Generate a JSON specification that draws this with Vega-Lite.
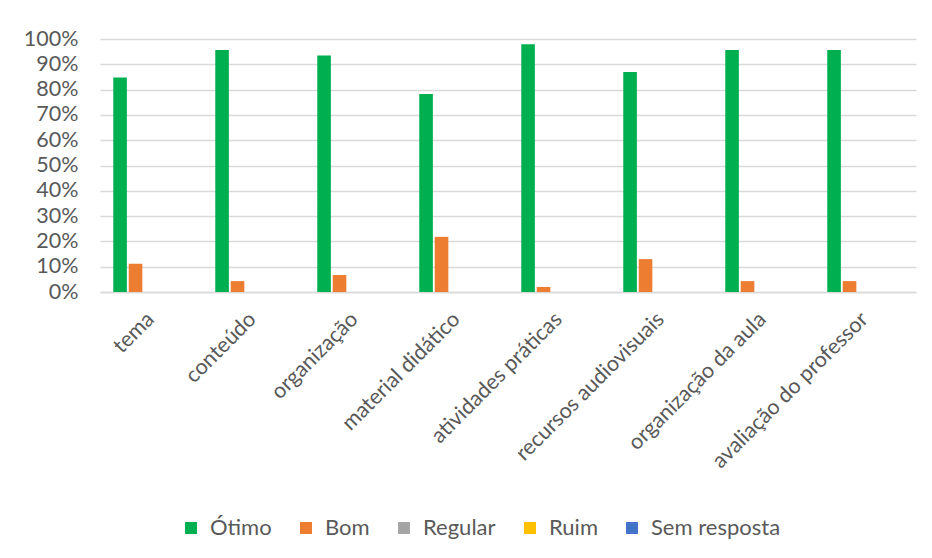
{
  "$schema": "https://vega.github.io/schema/vega-lite/v6.json",
  "width": 816,
  "height": 253,
  "autosize": {"type": "none"},
  "padding": {"left": 100, "top": 39, "right": 16, "bottom": 266},
  "background": "white",
  "data": {
    "values": [
      {"cat": "tema", "serie": "Ótimo", "v": 0.848},
      {"cat": "tema", "serie": "Bom", "v": 0.112},
      {"cat": "tema", "serie": "Regular", "v": 0},
      {"cat": "tema", "serie": "Ruim", "v": 0},
      {"cat": "tema", "serie": "Sem resposta", "v": 0},
      {"cat": "conteúdo", "serie": "Ótimo", "v": 0.957},
      {"cat": "conteúdo", "serie": "Bom", "v": 0.043},
      {"cat": "conteúdo", "serie": "Regular", "v": 0},
      {"cat": "conteúdo", "serie": "Ruim", "v": 0},
      {"cat": "conteúdo", "serie": "Sem resposta", "v": 0},
      {"cat": "organização", "serie": "Ótimo", "v": 0.935},
      {"cat": "organização", "serie": "Bom", "v": 0.067},
      {"cat": "organização", "serie": "Regular", "v": 0},
      {"cat": "organização", "serie": "Ruim", "v": 0},
      {"cat": "organização", "serie": "Sem resposta", "v": 0},
      {"cat": "material didático", "serie": "Ótimo", "v": 0.783},
      {"cat": "material didático", "serie": "Bom", "v": 0.218},
      {"cat": "material didático", "serie": "Regular", "v": 0},
      {"cat": "material didático", "serie": "Ruim", "v": 0},
      {"cat": "material didático", "serie": "Sem resposta", "v": 0},
      {"cat": "atividades práticas", "serie": "Ótimo", "v": 0.979},
      {"cat": "atividades práticas", "serie": "Bom", "v": 0.02},
      {"cat": "atividades práticas", "serie": "Regular", "v": 0},
      {"cat": "atividades práticas", "serie": "Ruim", "v": 0},
      {"cat": "atividades práticas", "serie": "Sem resposta", "v": 0},
      {"cat": "recursos audiovisuais", "serie": "Ótimo", "v": 0.87},
      {"cat": "recursos audiovisuais", "serie": "Bom", "v": 0.13},
      {"cat": "recursos audiovisuais", "serie": "Regular", "v": 0},
      {"cat": "recursos audiovisuais", "serie": "Ruim", "v": 0},
      {"cat": "recursos audiovisuais", "serie": "Sem resposta", "v": 0},
      {"cat": "organização da aula", "serie": "Ótimo", "v": 0.957},
      {"cat": "organização da aula", "serie": "Bom", "v": 0.043},
      {"cat": "organização da aula", "serie": "Regular", "v": 0},
      {"cat": "organização da aula", "serie": "Ruim", "v": 0},
      {"cat": "organização da aula", "serie": "Sem resposta", "v": 0},
      {"cat": "avaliação do professor", "serie": "Ótimo", "v": 0.957},
      {"cat": "avaliação do professor", "serie": "Bom", "v": 0.043},
      {"cat": "avaliação do professor", "serie": "Regular", "v": 0},
      {"cat": "avaliação do professor", "serie": "Ruim", "v": 0},
      {"cat": "avaliação do professor", "serie": "Sem resposta", "v": 0}
    ]
  },
  "mark": {"type": "bar"},
  "encoding": {
    "x": {
      "field": "cat",
      "type": "nominal",
      "sort": null,
      "scale": {"paddingInner": 0.26, "paddingOuter": 0.13},
      "axis": {
        "title": null,
        "labelAngle": -45,
        "labelAlign": "right",
        "labelBaseline": "middle",
        "labelFont": "Lato",
        "labelFontSize": 21.5,
        "labelColor": "#595959",
        "labelPadding": 24,
        "labelLimit": 0,
        "labelOverlap": false,
        "ticks": false,
        "domainColor": "#d9d9d9",
        "domainWidth": 1.5
      }
    },
    "xOffset": {
      "field": "serie",
      "type": "nominal",
      "sort": ["Ótimo", "Bom", "Regular", "Ruim", "Sem resposta"],
      "scale": {"paddingInner": 0.12}
    },
    "y": {
      "field": "v",
      "type": "quantitative",
      "scale": {"domain": [0, 1], "nice": false},
      "axis": {
        "title": null,
        "format": ".0%",
        "values": [0, 0.1, 0.2, 0.3, 0.4, 0.5, 0.6, 0.7, 0.8, 0.9, 1],
        "labelOverlap": false,
        "labelFont": "Lato",
        "labelFontSize": 21.5,
        "labelColor": "#595959",
        "labelPadding": 22,
        "ticks": false,
        "domain": false,
        "gridColor": "#d9d9d9",
        "gridWidth": 1.5
      }
    },
    "color": {
      "field": "serie",
      "type": "nominal",
      "sort": ["Ótimo", "Bom", "Regular", "Ruim", "Sem resposta"],
      "scale": {
        "domain": ["Ótimo", "Bom", "Regular", "Ruim", "Sem resposta"],
        "range": ["#00b050", "#ed7d31", "#a5a5a5", "#ffc000", "#4472c4"]
      },
      "legend": {
        "title": null,
        "orient": "none",
        "legendX": 80,
        "legendY": 478,
        "direction": "horizontal",
        "symbolType": "square",
        "symbolSize": 144,
        "symbolStrokeWidth": 0,
        "labelFont": "Lato",
        "labelFontSize": 22,
        "labelColor": "#595959",
        "columnPadding": 23,
        "labelOffset": 8
      }
    }
  },
  "config": {
    "view": {"stroke": null}
  }
}
